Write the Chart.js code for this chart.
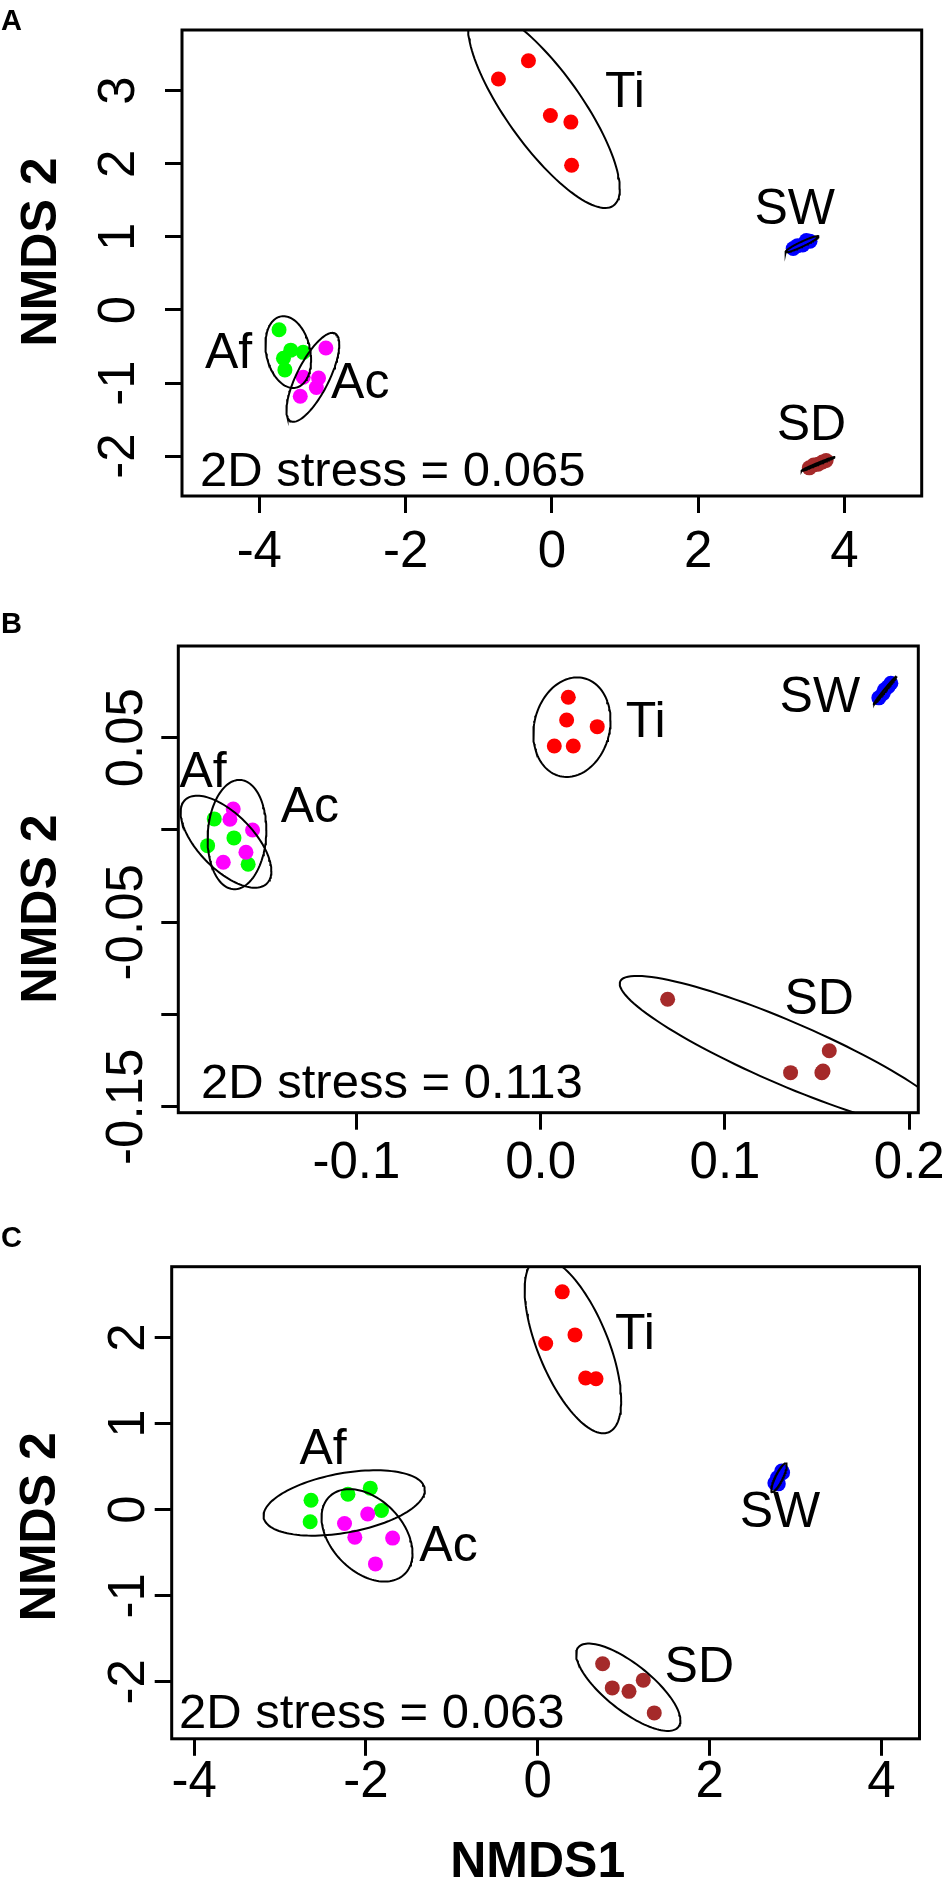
<!DOCTYPE html>
<html>
<head>
<meta charset="utf-8">
<title>NMDS ordinations</title>
<script src="https://cdn.jsdelivr.net/npm/chart.js@4.4.1/dist/chart.umd.min.js"></script>
<style>
  html, body { margin: 0; padding: 0; background: #fff; }
  #wrap { position: relative; width: 942px; height: 1879px; overflow: hidden; }
  #wrap canvas { position: absolute; left: 0; }
</style>
</head>
<body>
<div id="wrap">
  <canvas id="panelA" width="942" height="600" style="top:0px"></canvas>
  <canvas id="panelB" width="942" height="620" style="top:600px"></canvas>
  <canvas id="panelC" width="942" height="659" style="top:1220px"></canvas>
</div>
<script>
// groups, in drawing order
const groups = ['Af', 'Ac', 'Ti', 'SW', 'SD'];
const groupColors = ['#00FF00', '#FF00FF', '#FF0000', '#0000FF', '#A52A2A'];

// panel A  (one inner array per group: Af, Ac, Ti, SW, SD)
const xA = [
  [-3.73, -3.57, -3.40, -3.67, -3.65],
  [-3.09, -3.40, -3.19, -3.22, -3.44],
  [-0.73, -0.32, -0.02, 0.26, 0.27],
  [3.30, 3.36, 3.43, 3.48, 3.53],
  [3.52, 3.58, 3.64, 3.70, 3.75]
];
const yA = [
  [-0.27, -0.55, -0.58, -0.66, -0.82],
  [-0.52, -0.92, -0.93, -1.06, -1.18],
  [3.16, 3.41, 2.66, 2.57, 1.98],
  [0.84, 0.88, 0.89, 0.95, 0.94],
  [-2.16, -2.12, -2.11, -2.08, -2.06]
];
const labelXA = [-4.42, -2.62, 1.00, 3.32, 3.55];
const labelYA = [-0.61, -1.01, 2.96, 1.37, -1.59];
const xTicksA = [-4, -2, 0, 2, 4];
const xTickLabelsA = ['-4', '-2', '0', '2', '4'];
const yTicksA = [-2, -1, 0, 1, 2, 3];
const yTickLabelsA = ['-2', '-1', '0', '1', '2', '3'];
const stressA = '2D stress = 0.065';

// panel B
const xB = [
  [-0.1771, -0.1664, -0.1807, -0.1587],
  [-0.1668, -0.1686, -0.1563, -0.1599, -0.1722],
  [0.0150, 0.0141, 0.0307, 0.0074, 0.0177],
  [0.1835, 0.1858, 0.1866, 0.1885, 0.1900],
  [0.0689, 0.1566, 0.1356, 0.1526, 0.1532]
];
const yB = [
  [0.0060, -0.0043, -0.0085, -0.0186],
  [0.0114, 0.0058, 0.0000, -0.0121, -0.0175],
  [0.0719, 0.0596, 0.0560, 0.0455, 0.0455],
  [0.0716, 0.0740, 0.0760, 0.0776, 0.0795],
  [-0.0917, -0.1196, -0.1315, -0.1315, -0.1306]
];
const labelXB = [-0.1832, -0.1252, 0.0570, 0.1515, 0.1511];
const labelYB = [0.0310, 0.0118, 0.0578, 0.0713, -0.0925];
const xTicksB = [-0.1, 0, 0.1, 0.2];
const xTickLabelsB = ['-0.1', '0.0', '0.1', '0.2'];
const yTicksB = [-0.15, -0.1, -0.05, 0, 0.05];
const yTickLabelsB = ['-0.15', '', '-0.05', '', '0.05'];
const stressB = '2D stress = 0.113';

// panel C
const xC = [
  [-2.64, -2.65, -2.21, -1.95, -1.82],
  [-2.25, -1.98, -2.13, -1.69, -1.89],
  [0.285, 0.433, 0.092, 0.557, 0.678],
  [2.76, 2.80, 2.79, 2.84, 2.85],
  [0.755, 0.867, 1.062, 1.228, 1.356]
];
const yC = [
  [0.11, -0.14, 0.18, 0.25, -0.01],
  [-0.16, -0.05, -0.32, -0.33, -0.63],
  [2.53, 2.03, 1.93, 1.53, 1.52],
  [0.31, 0.30, 0.37, 0.45, 0.43],
  [-1.79, -2.07, -2.11, -1.98, -2.36]
];
const labelXC = [-2.50, -1.04, 1.13, 2.82, 1.88];
const labelYC = [0.69, -0.44, 2.03, -0.04, -1.84];
const xTicksC = [-4, -2, 0, 2, 4];
const xTickLabelsC = ['-4', '-2', '0', '2', '4'];
const yTicksC = [-2, -1, 0, 1, 2];
const yTickLabelsC = ['-2', '-1', '0', '1', '2'];
const stressC = '2D stress = 0.063';

const FONT = '"Liberation Sans", Arial, Helvetica, sans-serif';

// 95% sd ellipse of a group (like vegan::ordiellipse kind = "sd", conf = 0.95)
function sdEllipse(xs, ys) {
  const n = xs.length;
  const mx = xs.reduce((s, v) => s + v, 0) / n;
  const my = ys.reduce((s, v) => s + v, 0) / n;
  let sxx = 0, syy = 0, sxy = 0;
  for (let i = 0; i < n; i++) {
    const dx = xs[i] - mx, dy = ys[i] - my;
    sxx += dx * dx; syy += dy * dy; sxy += dx * dy;
  }
  sxx /= n - 1; syy /= n - 1; sxy /= n - 1;
  const k = Math.sqrt(5.991465); // sqrt(qchisq(0.95, 2))
  const q11 = Math.sqrt(sxx);
  const q12 = sxy / q11;
  const q22 = Math.sqrt(Math.max(syy - q12 * q12, 0));
  const pts = [];
  for (let i = 0; i <= 120; i++) {
    const t = 2 * Math.PI * i / 120;
    const c = Math.cos(t), s = Math.sin(t);
    pts.push({ x: mx + k * c * q11, y: my + k * (c * q12 + s * q22) });
  }
  return pts;
}

function makeDecor(p) {
  return {
    id: 'decor' + p.letter,
    afterDraw(chart) {
      const ctx = chart.ctx, a = chart.chartArea;
      const sx = chart.scales.x, sy = chart.scales.y;
      ctx.save();
      // plot box
      ctx.lineWidth = 3;
      ctx.strokeStyle = '#000';
      ctx.strokeRect(a.left, a.top, a.right - a.left, a.bottom - a.top);
      ctx.fillStyle = '#000';

      // tick labels
      ctx.font = '51px ' + FONT;
      ctx.textAlign = 'center';
      ctx.textBaseline = 'alphabetic';
      p.xTicks.forEach((v, i) => {
        if (p.xTickLabels[i]) ctx.fillText(p.xTickLabels[i], sx.getPixelForValue(v), p.xLabelBase);
      });
      ctx.textBaseline = 'middle';
      p.yTicks.forEach((v, i) => {
        if (!p.yTickLabels[i]) return;
        ctx.save();
        ctx.translate(p.yLabelX, sy.getPixelForValue(v));
        ctx.rotate(-Math.PI / 2);
        ctx.fillText(p.yTickLabels[i], 0, 0);
        ctx.restore();
      });

      // group labels
      ctx.font = '50px ' + FONT;
      groups.forEach((g, i) => {
        ctx.fillText(g, sx.getPixelForValue(p.labelX[i]), sy.getPixelForValue(p.labelY[i]));
      });

      // stress
      ctx.font = '49px ' + FONT;
      ctx.textAlign = 'left';
      ctx.textBaseline = 'alphabetic';
      ctx.fillText(p.stress, p.stressX, p.stressBase);

      // panel letter
      ctx.font = 'bold 29px ' + FONT;
      ctx.fillText(p.letter, 1, p.letterBase);

      // axis titles
      ctx.font = 'bold 50px ' + FONT;
      ctx.textAlign = 'center';
      ctx.textBaseline = 'middle';
      ctx.save();
      ctx.translate(p.titleX, p.titleY);
      ctx.rotate(-Math.PI / 2);
      ctx.fillText('NMDS 2', 0, 0);
      ctx.restore();
      if (p.xTitle) {
        ctx.textBaseline = 'alphabetic';
        ctx.fillText(p.xTitle, p.xTitleX, p.xTitleBase);
      }
      ctx.restore();
    }
  };
}

function axis(pos, min, max, ticks, fitFn) {
  return {
    type: 'linear',
    position: pos,
    min: min,
    max: max,
    bounds: 'data',
    afterBuildTicks: s => { s.ticks = ticks.map(v => ({ value: v })); },
    afterFit: fitFn,
    ticks: { display: false },
    grid: {
      display: true,
      drawOnChartArea: false,
      drawTicks: true,
      tickLength: 17,
      tickWidth: 3,
      tickColor: '#000'
    },
    border: { display: false }
  };
}

function drawPanel(p) {
  const datasets = [];
  groups.forEach((g, i) => {
    datasets.push({
      label: g + ' ellipse',
      data: sdEllipse(p.xs[i], p.ys[i]),
      showLine: true,
      pointRadius: 0,
      borderColor: '#000',
      borderWidth: 2,
      fill: false,
      tension: 0,
      order: 0
    });
  });
  groups.forEach((g, i) => {
    datasets.push({
      label: g,
      data: p.xs[i].map((x, j) => ({ x: x, y: p.ys[i][j] })),
      pointRadius: 7.5,
      pointBackgroundColor: groupColors[i],
      pointBorderColor: groupColors[i],
      pointBorderWidth: 0,
      order: 10 - i
    });
  });

  new Chart(document.getElementById(p.id), {
    type: 'scatter',
    data: { datasets: datasets },
    options: {
      responsive: false,
      animation: false,
      events: [],
      layout: { padding: { top: p.top, right: p.right, left: 0, bottom: 0 } },
      plugins: { legend: { display: false }, tooltip: { enabled: false } },
      scales: {
        x: axis('bottom', p.xMin, p.xMax, p.xTicks, s => { s.height = p.xHeight; }),
        y: axis('left', p.yMin, p.yMax, p.yTicks, s => { s.width = p.yWidth; })
      }
    },
    plugins: [makeDecor(p)]
  });
}

drawPanel({
  id: 'panelA', letter: 'A', letterBase: 30,
  xs: xA, ys: yA, labelX: labelXA, labelY: labelYA,
  xTicks: xTicksA, xTickLabels: xTickLabelsA, yTicks: yTicksA, yTickLabels: yTickLabelsA,
  xMin: -5.057, xMax: 5.057, yMin: -2.545, yMax: 3.83,
  top: 30, right: 20.3, yWidth: 182, xHeight: 104,
  yLabelX: 120, xLabelBase: 567, titleX: 42, titleY: 252,
  stress: stressA, stressX: 200, stressBase: 486
});

drawPanel({
  id: 'panelB', letter: 'B', letterBase: 33,
  xs: xB, ys: yB, labelX: labelXB, labelY: labelYB,
  xTicks: xTicksB, xTickLabels: xTickLabelsB, yTicks: yTicksB, yTickLabels: yTickLabelsB,
  xMin: -0.1966, xMax: 0.2049, yMin: -0.1532, yMax: 0.0997,
  top: 46, right: 23.7, yWidth: 178.3, xHeight: 107.3,
  yLabelX: 127.6, xLabelBase: 577.6, titleX: 42, titleY: 309,
  stress: stressB, stressX: 201, stressBase: 498.3
});

drawPanel({
  id: 'panelC', letter: 'C', letterBase: 27,
  xs: xC, ys: yC, labelX: labelXC, labelY: labelYC,
  xTicks: xTicksC, xTickLabels: xTickLabelsC, yTicks: yTicksC, yTickLabels: yTickLabelsC,
  xMin: -4.262, xMax: 4.444, yMin: -2.661, yMax: 2.822,
  top: 46.7, right: 22.5, yWidth: 171.7, xHeight: 140.2,
  yLabelX: 130, xLabelBase: 576.7, titleX: 41.3, titleY: 306.7,
  stress: stressC, stressX: 179, stressBase: 508.4,
  xTitle: 'NMDS1', xTitleX: 537.7, xTitleBase: 657
});
</script>
</body>
</html>
